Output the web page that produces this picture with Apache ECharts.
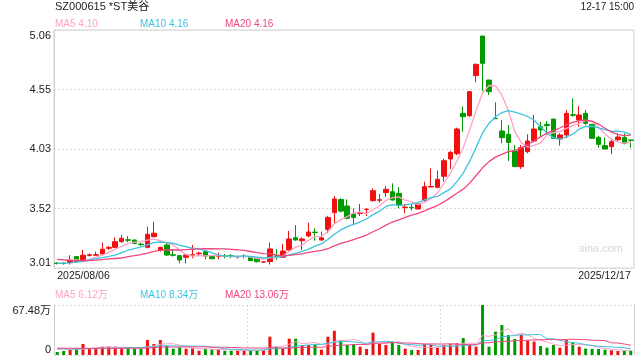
<!DOCTYPE html>
<html><head><meta charset="utf-8">
<script src="https://cdn.jsdelivr.net/npm/echarts@6/dist/echarts.min.js"></script>
<style>html,body{margin:0;padding:0;background:#fff}#c{width:640px;height:360px}</style>
</head><body><div id="c"></div>
<script>
const dates = ['2025/08/06','2025/08/07','2025/08/08','2025/08/11','2025/08/12','2025/08/13','2025/08/14','2025/08/15','2025/08/18','2025/08/19','2025/08/20','2025/08/21','2025/08/22','2025/08/25','2025/08/26','2025/08/27','2025/08/28','2025/08/29',
'2025/09/01','2025/09/02','2025/09/03','2025/09/04','2025/09/05','2025/09/08','2025/09/09','2025/09/10','2025/09/11','2025/09/12','2025/09/15','2025/09/16','2025/09/17','2025/09/18','2025/09/19','2025/09/22','2025/09/23','2025/09/24','2025/09/25','2025/09/26','2025/09/29','2025/09/30',
'2025/10/09','2025/10/10','2025/10/13','2025/10/14','2025/10/15','2025/10/16','2025/10/17','2025/10/20','2025/10/21','2025/10/22','2025/10/23','2025/10/24','2025/10/27','2025/10/28','2025/10/29','2025/10/30','2025/10/31',
'2025/11/03','2025/11/04','2025/11/05','2025/11/06','2025/11/07','2025/11/10','2025/11/11','2025/11/12','2025/11/13','2025/11/14','2025/11/17','2025/11/18','2025/11/19','2025/11/20','2025/11/21','2025/11/24','2025/11/25','2025/11/26','2025/11/27','2025/11/28',
'2025/12/01','2025/12/02','2025/12/03','2025/12/04','2025/12/05','2025/12/08','2025/12/09','2025/12/10','2025/12/11','2025/12/12','2025/12/15','2025/12/16','2025/12/17'];

// [open, close, low, high]
const candles = [
[3.051,3.049,3.04,3.06],[3.052,3.048,3.04,3.055],[3.056,3.079,3.04,3.12],[3.108,3.065,3.06,3.11],[3.07,3.12,3.06,3.165],
[3.118,3.124,3.108,3.136],[3.12,3.125,3.113,3.15],[3.131,3.171,3.122,3.228],[3.18,3.188,3.165,3.199],[3.188,3.237,3.179,3.274],
[3.237,3.266,3.228,3.294],[3.253,3.249,3.234,3.286],[3.251,3.222,3.215,3.255],[3.216,3.212,3.199,3.228],[3.188,3.30,3.179,3.366],
[3.28,3.31,3.274,3.409],[3.165,3.188,3.151,3.194],[3.208,3.122,3.113,3.228],[3.124,3.12,3.108,3.171],[3.116,3.079,3.05,3.122],
[3.102,3.122,3.05,3.124],[3.12,3.124,3.093,3.208],[3.133,3.138,3.12,3.15],[3.151,3.113,3.085,3.151],[3.113,3.09,3.085,3.113],
[3.111,3.115,3.085,3.142],[3.115,3.111,3.093,3.131],[3.115,3.111,3.093,3.131],[3.106,3.11,3.09,3.113],[3.109,3.111,3.093,3.128],
[3.108,3.073,3.07,3.11],[3.093,3.065,3.056,3.093],[3.061,3.063,3.058,3.066],[3.065,3.174,3.04,3.228],[3.115,3.111,3.079,3.174],
[3.102,3.156,3.10,3.217],[3.165,3.26,3.16,3.329],[3.271,3.251,3.245,3.38],[3.245,3.26,3.165,3.274],[3.286,3.32,3.274,3.40],
[3.319,3.315,3.245,3.352],[3.251,3.27,3.245,3.323],[3.343,3.446,3.309,3.458],[3.487,3.604,3.395,3.63],[3.60,3.50,3.49,3.61],
[3.544,3.438,3.429,3.601],[3.475,3.446,3.389,3.524],[3.479,3.483,3.458,3.561],[3.513,3.517,3.458,3.524],[3.59,3.676,3.581,3.696],
[3.594,3.598,3.573,3.647],[3.659,3.688,3.624,3.716],[3.667,3.596,3.59,3.739],[3.653,3.553,3.524,3.705],[3.531,3.535,3.481,3.561],
[3.532,3.528,3.504,3.561],[3.518,3.561,3.515,3.567],[3.59,3.71,3.581,3.754],[3.708,3.712,3.705,3.868],[3.705,3.774,3.696,3.848],
[3.80,3.934,3.754,3.95],[3.949,4.006,3.863,4.018],[3.995,4.207,3.983,4.219],[4.342,4.313,4.184,4.40],[4.322,4.529,4.313,4.534],
[4.667,4.764,4.609,4.773],[5.008,4.773,4.534,5.01],[4.629,4.529,4.50,4.63],[4.30,4.296,4.293,4.437],[4.19,4.133,4.084,4.285],
[4.161,4.092,3.932,4.242],[4.018,3.883,3.88,4.069],[3.883,4.046,3.863,4.069],[4.012,4.104,3.998,4.161],[4.104,4.207,4.092,4.328],
[4.227,4.199,4.141,4.27],[4.247,4.236,4.156,4.276],[4.293,4.127,4.121,4.293],[4.121,4.156,4.064,4.17],[4.156,4.342,4.127,4.371],
[4.33,4.326,4.313,4.471],[4.285,4.328,4.227,4.405],[4.342,4.256,4.242,4.371],[4.247,4.127,4.121,4.25],[4.135,4.075,4.046,4.15],
[4.064,4.035,4.035,4.133],[4.055,4.098,3.989,4.127],[4.115,4.138,4.104,4.17],[4.135,4.084,4.075,4.17],[4.112,4.11,4.046,4.113]];

const ma5 = [3.085,3.082,3.08,3.08,3.072,3.087,3.103,3.121,3.146,3.169,3.197,3.222,3.232,3.237,3.25,3.259,3.246,3.226,3.208,3.164,3.126,3.113,3.117,3.115,3.117,3.116,3.113,3.108,3.107,3.112,3.103,3.094,3.084,3.097,3.097,3.114,3.153,3.19,3.208,3.249,3.281,3.283,3.322,3.391,3.427,3.452,3.487,3.494,3.477,3.512,3.544,3.592,3.615,3.622,3.594,3.58,3.555,3.577,3.609,3.657,3.738,3.827,3.927,4.047,4.198,4.364,4.517,4.582,4.578,4.499,4.365,4.187,4.09,4.052,4.066,4.088,4.158,4.175,4.185,4.212,4.237,4.256,4.282,4.276,4.222,4.164,4.118,4.095,4.086,4.093];
const ma10 = [3.05,3.052,3.055,3.06,3.068,3.079,3.09,3.10,3.11,3.121,3.142,3.163,3.177,3.192,3.21,3.228,3.234,3.229,3.223,3.207,3.193,3.18,3.172,3.162,3.141,3.121,3.113,3.113,3.111,3.115,3.11,3.104,3.096,3.102,3.105,3.109,3.124,3.137,3.153,3.173,3.198,3.218,3.256,3.30,3.338,3.367,3.385,3.408,3.434,3.47,3.498,3.54,3.555,3.55,3.553,3.562,3.574,3.596,3.616,3.626,3.659,3.691,3.752,3.828,3.928,4.051,4.172,4.255,4.313,4.349,4.365,4.352,4.336,4.315,4.283,4.227,4.173,4.133,4.119,4.139,4.163,4.207,4.229,4.231,4.217,4.201,4.187,4.189,4.181,4.158];
const ma20 = [3.085,3.08,3.076,3.074,3.073,3.074,3.078,3.083,3.088,3.092,3.096,3.108,3.116,3.126,3.139,3.154,3.162,3.165,3.167,3.164,3.168,3.172,3.175,3.177,3.176,3.175,3.174,3.171,3.167,3.161,3.152,3.142,3.134,3.132,3.123,3.115,3.119,3.125,3.132,3.144,3.154,3.161,3.176,3.201,3.222,3.238,3.255,3.273,3.294,3.322,3.348,3.379,3.406,3.425,3.446,3.465,3.48,3.502,3.525,3.548,3.579,3.616,3.654,3.689,3.741,3.807,3.873,3.926,3.965,3.988,4.012,4.022,4.044,4.072,4.106,4.139,4.173,4.194,4.216,4.244,4.264,4.28,4.283,4.273,4.25,4.214,4.18,4.161,4.15,4.155];

// volume, unit: 万
const volumes = [4.05,5.4,6.75,9,14.85,8.55,9,11.25,11.25,11.25,9,9,8.55,8.55,20.25,14.85,20.25,12.15,8.55,10.35,8.55,9,5.85,8.55,7.65,7.65,5.85,5.85,5.85,5.85,6.75,5.85,6.75,24.75,11.25,9,22.05,22.05,13.5,13.5,13.5,7.2,24.75,32.6,20.25,13.5,14.85,11.25,8.1,30.15,14.85,13.5,18,13.5,8.55,6.75,6.75,14.85,13.5,9.9,13.5,14.85,15.75,22.95,13.5,11.25,67.48,11.25,31.5,40.5,27,21.6,27,19.35,18,12.15,9.9,13.5,9.9,20.25,16.65,11.25,8.7,8.1,8.1,7.2,6.3,5.4,5.85,5.85];
const volMa5 = [8.0,7.8,7.6,7.8,8.01,8.91,9.63,10.53,10.98,10.26,10.35,10.35,9.81,9.27,11.07,12.24,14.49,15.21,15.21,13.23,11.97,9.72,8.46,8.46,7.92,7.74,7.11,7.11,6.57,6.21,6.03,6.03,6.21,9.99,11.07,11.52,14.76,17.82,15.57,16.02,16.92,13.95,14.49,18.31,19.66,19.66,21.19,18.49,13.59,15.57,15.84,15.57,16.92,18,13.68,12.06,10.71,10.08,10.08,10.35,11.7,13.32,13.5,15.39,16.11,15.66,26.19,25.29,27.0,32.4,35.55,26.37,29.52,27.09,22.59,19.62,17.28,14.58,12.69,13.14,14.04,14.31,13.35,12.99,10.56,8.67,7.68,7.02,6.57,6.12];
const volMa10 = [8.4,8.3,8.2,8.2,8.3,8.46,8.72,9.07,9.39,9.14,9.63,9.99,10.17,10.13,10.67,11.3,12.42,12.51,12.24,12.15,12.11,12.11,11.84,11.84,10.58,9.86,8.42,7.79,7.52,7.07,6.89,6.57,6.66,8.28,8.64,8.78,10.4,12.02,12.78,13.55,14.22,14.36,16.16,16.94,17.84,18.29,17.57,16.49,15.95,17.62,17.75,18.38,17.71,15.8,14.63,13.95,13.14,13.5,14.04,12.02,11.88,12.02,11.79,12.74,13.23,13.68,19.76,19.4,21.2,24.26,25.61,26.28,27.41,27.05,27.5,27.59,21.83,22.05,19.89,17.87,16.83,15.8,13.97,12.84,11.85,11.36,11.0,10.19,9.78,8.34];
const volMa20 = [9.2,9.2,9.1,9.1,9.0,9.0,9.0,9.0,9.0,9.0,9.02,9.15,9.19,9.17,9.49,9.88,10.57,10.79,10.82,10.65,10.87,11.05,11.01,10.99,10.63,10.58,10.42,10.15,9.88,9.61,9.5,9.34,9.25,10.06,9.61,9.32,9.41,9.91,10.15,10.31,10.56,10.47,11.41,12.61,13.24,13.54,13.99,14.26,14.37,15.59,15.99,16.37,16.94,16.37,16.24,16.12,15.36,15.0,15.0,14.82,14.82,15.2,14.75,14.27,13.93,13.82,16.45,16.45,17.62,18.14,18.75,19.15,19.6,19.9,20.37,20.64,20.8,20.73,20.55,21.07,21.22,21.04,20.69,19.95,19.68,19.48,16.42,16.12,14.84,13.1];

const priceRange = [3.01, 5.06];
const priceTicks = ['3.01','3.52','4.03','4.55','5.06'];
const volRange = [0, 67.48];
const volTicks = ['0','67.48万'];
const titleText = 'SZ000615 *ST美谷';
const timeText = '12-17 15:00';
const priceLegend = ['MA5 4.10','MA10 4.16','MA20 4.16'];
const volLegend = ['MA5 6.12万','MA10 8.34万','MA20 13.06万'];
const watermark = 'sina.com';

const UP = '#f01010', DOWN = '#009a00';
const C5 = '#ffa2c4', C10 = '#3cc4e0', C20 = '#f2457f';
const FONT = '"Liberation Sans", Arial, "Noto Sans CJK SC", sans-serif';
const legendColors = [C5, C10, C20];
const legendX = [55, 140, 225];

const chart = echarts.init(document.getElementById('c'), null, {renderer: 'canvas'});

const volData = volumes.map((v, i) => ({
  value: v,
  itemStyle: {color: candles[i][1] > candles[i][0] ? UP : DOWN}
}));

function lineSeries(name, data, color, xi, yi, w) {
  return {name, type: 'line', data, xAxisIndex: xi, yAxisIndex: yi, showSymbol: false, silent: true,
    lineStyle: {color, width: w}, itemStyle: {color}, z: 5};
}

const dotted = {color: '#d9d9d9', type: [2, 2], width: 1};

const graphics = [
  {type: 'text', left: 55, top: 1, style: {text: titleText, fill: '#222', font: '11px ' + FONT}},
  {type: 'text', right: 6, top: 2, style: {text: timeText, fill: '#222', font: '10px ' + FONT}},
  {type: 'text', right: 17, top: 243, style: {text: watermark, fill: '#d6d6d6', font: '11px ' + FONT}}
];
priceLegend.forEach((t, i) => graphics.push({type: 'text', left: legendX[i], top: 19, style: {text: t, fill: legendColors[i], font: '10px ' + FONT}}));
volLegend.forEach((t, i) => graphics.push({type: 'text', left: legendX[i], top: 290, style: {text: t, fill: legendColors[i], font: '10px ' + FONT}}));

chart.setOption({
  animation: false,
  backgroundColor: '#fff',
  textStyle: {fontFamily: FONT},
  graphic: graphics,
  grid: [
    {left: 54, right: 6, top: 30, height: 238, show: true, borderColor: '#d0d0d0', borderWidth: 1},
    {left: 54, right: 6, top: 305, height: 50, show: false}
  ],
  xAxis: [
    {type: 'category', gridIndex: 0, data: dates, boundaryGap: true,
      axisLine: {show: false}, axisTick: {show: false}, splitLine: {show: false},
      axisLabel: {interval: (i) => i === 0 || i === dates.length - 1, color: '#222', fontSize: 10.5, margin: 3,
        alignMinLabel: 'left', alignMaxLabel: 'right', showMinLabel: true, showMaxLabel: true}},
    {type: 'category', gridIndex: 1, data: dates, boundaryGap: true,
      axisLine: {show: false}, axisTick: {show: false}, axisLabel: {show: false},
      splitLine: {show: true, interval: (i) => i === 30 || i === 60, lineStyle: dotted}}
  ],
  yAxis: [
    {type: 'value', gridIndex: 0, min: priceRange[0], max: priceRange[1], show: false, splitLine: {show: false}},
    {type: 'value', gridIndex: 0, min: 0, max: priceTicks.length - 1, interval: 1, position: 'left',
      axisLine: {show: true, lineStyle: {color: '#d0d0d0'}}, axisTick: {show: false},
      axisLabel: {formatter: (v) => priceTicks[v], color: '#222', fontSize: 11, margin: 3,
        verticalAlignMinLabel: 'bottom', verticalAlignMaxLabel: 'top'},
      splitLine: {show: true, lineStyle: dotted}},
    {type: 'value', gridIndex: 1, min: volRange[0], max: volRange[1], show: false, splitLine: {show: false}},
    {type: 'value', gridIndex: 1, min: 0, max: volTicks.length - 1, interval: 1, position: 'left',
      axisLine: {show: true, lineStyle: {color: '#d0d0d0'}}, axisTick: {show: false},
      axisLabel: {formatter: (v) => volTicks[v], color: '#222', fontSize: 11, margin: 3,
        verticalAlignMinLabel: 'bottom', verticalAlignMaxLabel: 'top'},
      splitLine: {show: true, lineStyle: dotted}},
    {type: 'value', gridIndex: 1, min: 0, max: 1, position: 'right',
      axisLine: {show: true, lineStyle: {color: '#d0d0d0'}}, axisTick: {show: false},
      axisLabel: {show: false}, splitLine: {show: false}}
  ],
  series: [
    {name: 'K', type: 'candlestick', data: candles, xAxisIndex: 0, yAxisIndex: 0, barWidth: 5, silent: true,
      itemStyle: {color: UP, color0: DOWN, borderColor: UP, borderColor0: DOWN, borderWidth: 1}},
    lineSeries('MA5', ma5, C5, 0, 0, 1.3),
    lineSeries('MA10', ma10, C10, 0, 0, 1.3),
    lineSeries('MA20', ma20, C20, 0, 0, 1.3),
    {name: 'VOL', type: 'bar', data: volData, xAxisIndex: 1, yAxisIndex: 2, barWidth: 3, silent: true},
    lineSeries('VMA5', volMa5, C5, 1, 2, 1),
    lineSeries('VMA10', volMa10, C10, 1, 2, 1),
    lineSeries('VMA20', volMa20, C20, 1, 2, 1)
  ]
});
</script>
</body></html>
